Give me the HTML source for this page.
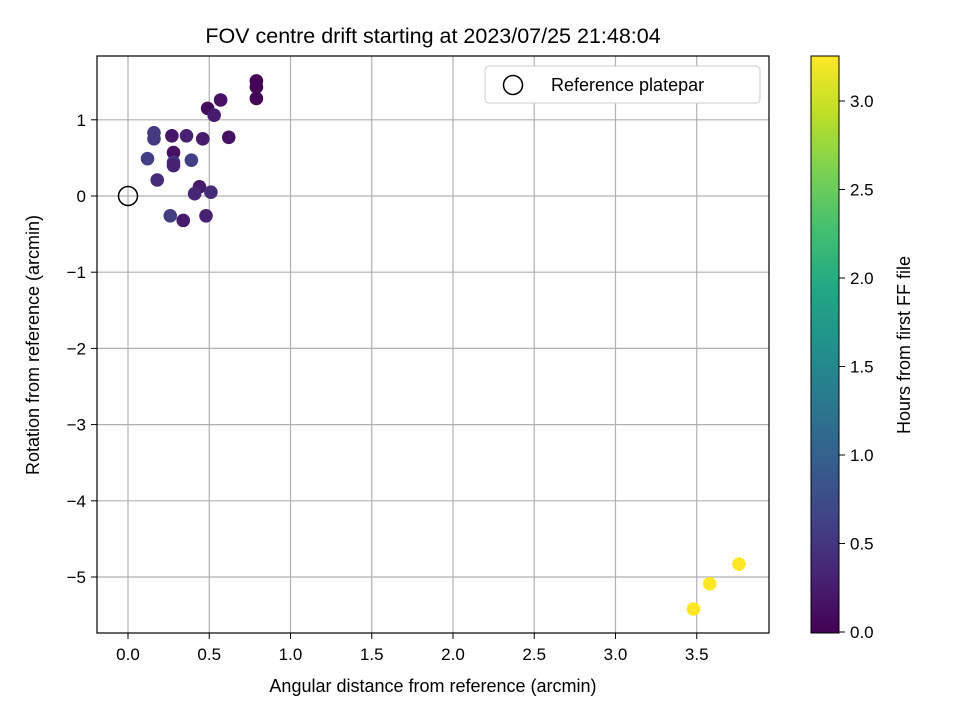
<!DOCTYPE html>
<html><head><meta charset="utf-8"><style>
body{margin:0;background:#fff;}
svg{font-family:"Liberation Sans","DejaVu Sans",sans-serif;}
</style></head><body>
<svg id="chart" width="960" height="720" viewBox="0 0 960 720" xmlns="http://www.w3.org/2000/svg">
<defs>
<linearGradient id="vir" x1="0" y1="1" x2="0" y2="0">
<stop offset="0" stop-color="#440154"/><stop offset="0.1" stop-color="#482475"/><stop offset="0.2" stop-color="#414487"/><stop offset="0.3" stop-color="#355f8d"/><stop offset="0.4" stop-color="#2a788e"/><stop offset="0.5" stop-color="#21918c"/><stop offset="0.6" stop-color="#22a884"/><stop offset="0.7" stop-color="#44bf70"/><stop offset="0.8" stop-color="#7ad151"/><stop offset="0.9" stop-color="#bddf26"/><stop offset="1" stop-color="#fde725"/>
</linearGradient>
<clipPath id="pc"><rect x="97" y="56" width="672" height="577"/></clipPath>
</defs>
<text x="433" y="43" font-size="21.5" text-anchor="middle">FOV centre drift starting at 2023/07/25 21:48:04</text>
<g id="grid"></g>
<g id="pts" clip-path="url(#pc)"></g>
<rect x="97" y="56" width="672" height="577" fill="none" stroke="#000" stroke-width="1.2"/>
<g id="ticks"></g>
<text x="433" y="692" font-size="18" text-anchor="middle">Angular distance from reference (arcmin)</text>
<text transform="translate(39,345) rotate(-90)" font-size="18" text-anchor="middle">Rotation from reference (arcmin)</text>
<g>
<rect x="485" y="66" width="275" height="37" rx="4" fill="#fff" stroke="#ccc"/>
<circle cx="513" cy="85" r="9.5" fill="none" stroke="#000" stroke-width="1.5"/>
<text x="551" y="91" font-size="18">Reference platepar</text>
</g>
<rect x="811" y="56" width="28" height="577" fill="url(#vir)" stroke="#000" stroke-width="1"/>
<g id="cticks"></g>
<text transform="translate(910,345) rotate(-90)" font-size="18" text-anchor="middle">Hours from first FF file</text>
</svg>
<script>
const xs=[0.79,0.79,0.79,0.57,0.49,0.53,0.16,0.16,0.27,0.36,0.46,0.62,0.28,0.12,0.28,0.28,0.39,0.18,0.44,0.41,0.51,0.26,0.34,0.48,3.48,3.58,3.76];
const ys=[1.51,1.43,1.28,1.26,1.15,1.06,0.83,0.75,0.79,0.79,0.75,0.77,0.57,0.49,0.44,0.40,0.47,0.21,0.12,0.03,0.05,-0.26,-0.32,-0.26,-5.42,-5.09,-4.83];
const hours=[0.02,0.02,0.02,0.15,0.1,0.25,0.55,0.55,0.2,0.3,0.25,0.15,0.15,0.6,0.5,0.3,0.6,0.4,0.25,0.35,0.4,0.6,0.25,0.3,3.25,3.25,3.25];
const xTicks=[0,0.5,1,1.5,2,2.5,3,3.5];
const yTicks=[1,0,-1,-2,-3,-4,-5];
const cTicks=[0,0.5,1,1.5,2,2.5,3];
const X=v=>128+v*162.5, Y=v=>196-v*76.2, C=v=>632-v*177;
const hMax=3.25;
const vir=[[68,1,84],[72,36,117],[65,68,135],[53,95,141],[42,120,142],[33,145,140],[34,168,132],[68,191,112],[122,209,81],[189,223,38],[253,231,37]];
function cmap(t){t=Math.max(0,Math.min(1,t))*10;const i=Math.min(9,Math.floor(t)),f=t-i;const a=vir[i],b=vir[i+1];return `rgb(${a.map((v,k)=>Math.round(v+(b[k]-v)*f)).join(',')})`;}
const NS="http://www.w3.org/2000/svg";
function mk(tag,attrs,parent,txt){const e=document.createElementNS(NS,tag);for(const k in attrs)e.setAttribute(k,attrs[k]);if(txt!==undefined)e.textContent=txt;parent.appendChild(e);return e;}
const g=document.getElementById('grid'),tk=document.getElementById('ticks'),pts=document.getElementById('pts'),ct=document.getElementById('cticks');
xTicks.forEach(v=>{
 const l=mk('line',{x1:X(v),x2:X(v),y1:56,y2:633,stroke:'#b0b0b0','stroke-width':1.2},g);
 
 
 mk('line',{x1:X(v),x2:X(v),y1:633,y2:639,stroke:'#000'},tk);
 const t=mk('text',{x:X(v),y:660,'font-size':17,'text-anchor':'middle'},tk,v.toFixed(1));
 
 
});
yTicks.forEach(v=>{
 const l=mk('line',{x1:97,x2:769,y1:Y(v),y2:Y(v),stroke:'#b0b0b0','stroke-width':1.2},g);
 
 
 mk('line',{x1:91,x2:97,y1:Y(v),y2:Y(v),stroke:'#000'},tk);
 const t=mk('text',{x:86,y:Y(v)+6,'font-size':17,'text-anchor':'end'},tk,(v<0?'\u2212':'')+Math.abs(v));
 
 
});
const ref=mk('circle',{cx:X(0),cy:Y(0),r:9.5,fill:'none',stroke:'#000','stroke-width':1.5},pts);


xs.forEach((x,i)=>{
 const c=mk('circle',{cx:X(x),cy:Y(ys[i]),r:6.8,fill:cmap(hours[i]/hMax)},pts);
 
 
});
cTicks.forEach(v=>{
 mk('line',{x1:839,x2:845,y1:C(v),y2:C(v),stroke:'#000'},ct);
 const t=mk('text',{x:850,y:C(v)+6,'font-size':17},ct,v.toFixed(1));
 
 
});
</script>
</body></html>
